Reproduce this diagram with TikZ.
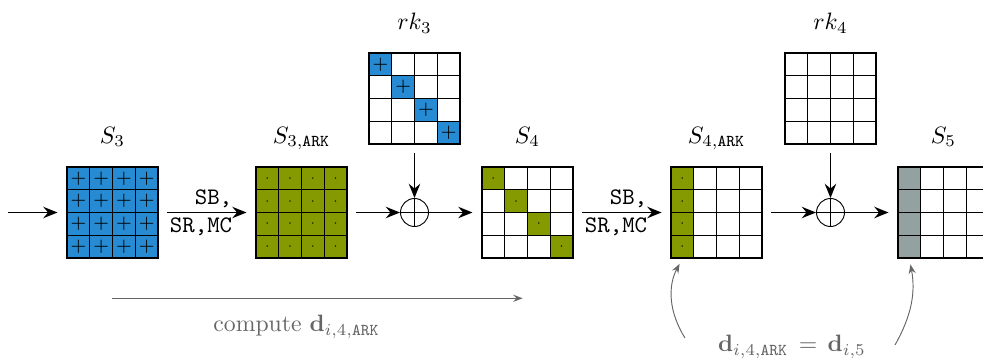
\documentclass[tikz,border=0pt]{standalone}
\usetikzlibrary{arrows.meta,calc}

\definecolor{solblue}{HTML}{268BD2}
\definecolor{solgreen}{HTML}{859900}
\definecolor{solgray}{HTML}{93A1A1}

\newcommand{\cellsz}{0.3375}
% 4x4 state: node name, test on \row/\col, style and mark of the marked cells
\newcommand{\stategrid}[4]{%
  \foreach \row in {0,...,3}
    \foreach \col in {0,...,3} {
      \ifnum#2\relax \def\look{#3}\def\cellmark{#4}%
      \else \def\look{blankcell}\def\cellmark{}\fi
      \node[cell, \look] (#1-\row\col)
        at ($(#1.center)+({(\col-1.5)*\cellsz},{(1.5-\row)*\cellsz})$) {\cellmark};
    }}

\begin{document}
\begin{tikzpicture}
   \tikzstyle{state} = [minimum size=1.35cm, inner sep=0pt, outer sep=4pt]
   \tikzstyle{cell} = [draw, line width=0.5pt, minimum size=\cellsz cm, inner sep=0pt]
   \tikzstyle{blankcell} = []
   \tikzstyle{bluecell} = [fill=solblue]
   \tikzstyle{greencell} = [fill=solgreen]
   \tikzstyle{graycell} = [fill=solgray]
   \tikzstyle{xor} = [draw, circle, minimum size=0.415cm, inner sep=0pt,
     path picture={\draw (path picture bounding box.north) -- (path picture bounding box.south)
                         (path picture bounding box.west) -- (path picture bounding box.east);}]
   \tikzstyle{line} = [draw, thick, -{Stealth[length=6pt, width=4.8pt, inset=2pt]}]
   \tikzstyle{note} = [draw, black!60, -{Stealth[length=4pt, width=3pt, inset=1.4pt]}]
   \tikzstyle{round} = [align=right, font=\ttfamily, xshift=-2.5pt]

   \clip (0,0) rectangle (14.585,-5.356);

   \node[state] (s3) at (1.669,-3.153) {};
   \node[state] (s3ark) at (4.473,-3.153) {};
   \node[state] (rk3) at (6.150,-1.461) {};
   \node[state] (s4) at (7.826,-3.153) {};
   \node[state] (s4ark) at (10.631,-3.153) {};
   \node[state] (rk4) at (12.322,-1.461) {};
   \node[state] (s5) at (13.999,-3.153) {};

   \stategrid{s3}{0=0}{bluecell}{\footnotesize$+$}
   \stategrid{s3ark}{0=0}{greencell}{\tiny$\cdot$}
   \stategrid{rk3}{\row=\col}{bluecell}{\footnotesize$+$}
   \stategrid{s4}{\row=\col}{greencell}{\tiny$\cdot$}
   \stategrid{s4ark}{\col=0}{greencell}{\tiny$\cdot$}
   \stategrid{rk4}{0=1}{blankcell}{}
   \stategrid{s5}{\col=0}{graycell}{}

   \node[anchor=base] (s3lbl) at (1.669,-2.122) {$S_3$};
   \node[anchor=base] (s3arklbl) at (4.473,-2.122) {$S_{3,\mathtt{ARK}}$};
   \node[anchor=base] (rk3lbl) at (6.150,-0.445) {$rk_3$};
   \node[anchor=base] (s4lbl) at (7.826,-2.122) {$S_4$};
   \node[anchor=base] (s4arklbl) at (10.631,-2.122) {$S_{4,\mathtt{ARK}}$};
   \node[anchor=base] (rk4lbl) at (12.322,-0.445) {$rk_4$};
   \node[anchor=base] (s5lbl) at (13.999,-2.122) {$S_5$};

   \node[xor] (xor3) at (6.150,-3.153) {};
   \node[xor] (xor4) at (12.322,-3.153) {};
   \coordinate (in) at (0.119,-3.153);

   \path (in) edge[line] (s3);
   \path (s3) edge[line] node[round] {SB,\\SR,MC} (s3ark);
   \path (s3ark) edge[line] (xor3);
   \path (rk3) edge[line] (xor3);
   \path (xor3) edge[line] (s4);
   \path (s4) edge[line] node[round] {SB,\\SR,MC} (s4ark);
   \path (s4ark) edge[line] (xor4);
   \path (rk4) edge[line] (xor4);
   \path (xor4) edge[line] (s5);

   % differences
   \coordinate (cfrom) at (1.666,-4.426);
   \coordinate (cto) at (7.755,-4.426);
   \path (cfrom) edge[note] (cto);
   \node[anchor=base, black!60] (compute) at (4.40,-4.92) {compute $\mathbf{d}_{i,4,\mathtt{ARK}}$};

   \node[anchor=base, black!60] (equal) at (11.75,-5.218)
     {$\mathbf{d}_{i,4,\mathtt{ARK}} \,=\, \mathbf{d}_{i,5}$};
   \coordinate (lfoot) at (10.163,-5.015);
   \coordinate (rfoot) at (13.279,-5.119);
   \path (lfoot) edge[note, shorten >=2.5pt, bend left=30] (s4ark-30.south);
   \path (rfoot) edge[note, shorten >=2.5pt, bend right=20] (s5-30.south);
 \end{tikzpicture}
\end{document}
